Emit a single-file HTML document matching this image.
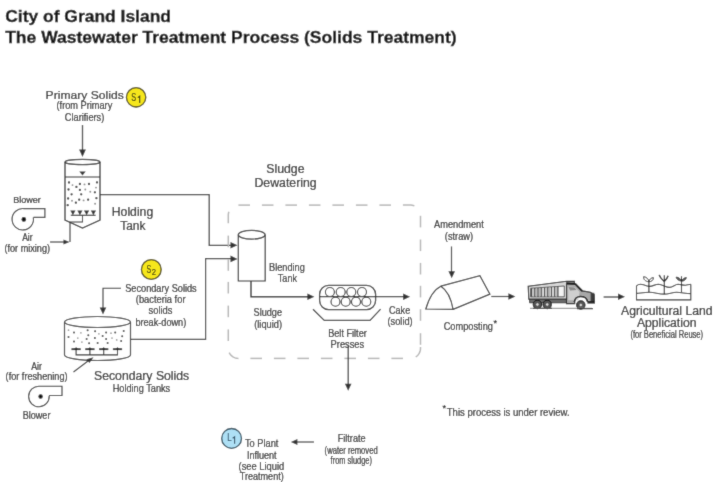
<!DOCTYPE html>
<html><head><meta charset="utf-8"><style>
html,body{margin:0;padding:0;background:#fff;width:718px;height:482px;overflow:hidden}
svg{display:block;font-family:"Liberation Sans",sans-serif;will-change:transform}
</style></head><body>
<div class="wrap"><svg width="718" height="482" viewBox="0 0 718 482">
<defs><filter id="bl" x="0" y="0" width="718" height="482" filterUnits="userSpaceOnUse"><feConvolveMatrix order="3" kernelMatrix="0.02 0.08 0.02 0.08 0.6 0.08 0.02 0.08 0.02" edgeMode="duplicate"/></filter></defs>
<g filter="url(#bl)">
<rect width="718" height="482" fill="#fff"/>
<circle cx="136.1" cy="97.3" r="9.7" fill="#f6e71f" stroke="#4a4408" stroke-width="1.3"/>
<circle cx="151.3" cy="269.5" r="9.9" fill="#f6e71f" stroke="#4a4408" stroke-width="1.3"/>
<circle cx="231.6" cy="438.4" r="9.9" fill="#aee0f5" stroke="#2d4a5a" stroke-width="1.3"/>
<line x1="82.5" y1="125" x2="82.5" y2="151" stroke="#303030" stroke-width="1.3"/>
<polygon points="82.5,157.0 79.1,149.5 85.9,149.5" fill="#303030"/>
<path d="M65,162 L65,220 L82.5,228 L100,220 L100,162" fill="none" stroke="#303030" stroke-width="1.3"/>
<ellipse cx="82.5" cy="162" rx="17.5" ry="2.6" fill="#fff" stroke="#303030" stroke-width="1.2"/>
<line x1="65" y1="177" x2="100" y2="177" stroke="#303030" stroke-width="1.2"/>
<polygon points="79.3,171.6 85.7,171.6 82.5,175.6" fill="#303030"/>
<line x1="70.8" y1="215.3" x2="95.6" y2="215.3" stroke="#303030" stroke-width="1.2"/>
<polygon points="70.3,210.6 75.5,210.6 72.9,215.2" fill="#303030"/>
<polygon points="77.3,210.6 82.5,210.6 79.9,215.2" fill="#303030"/>
<polygon points="84.0,210.6 89.2,210.6 86.6,215.2" fill="#303030"/>
<polygon points="90.8,210.6 96.0,210.6 93.4,215.2" fill="#303030"/>
<path d="M82.5,215 L82.5,222 L70,222 L70,242" fill="none" stroke="#303030" stroke-width="1.1"/>
<line x1="50" y1="242" x2="64" y2="242" stroke="#303030" stroke-width="1.1"/>
<polygon points="69.5,242.0 63.5,239.4 63.5,244.6" fill="#303030"/>
<circle cx="69.0" cy="182.5" r="1.15" fill="#333"/>
<circle cx="72.5" cy="185.1" r="0.95" fill="#888"/>
<circle cx="79.9" cy="184" r="1.15" fill="#333"/>
<circle cx="84.5" cy="184.4" r="0.95" fill="#888"/>
<circle cx="89" cy="184" r="1.15" fill="#333"/>
<circle cx="97" cy="182.4" r="1.15" fill="#333"/>
<circle cx="76.4" cy="186.9" r="1.15" fill="#333"/>
<circle cx="68.5" cy="189.5" r="1.15" fill="#333"/>
<circle cx="79.9" cy="189.9" r="1.15" fill="#333"/>
<circle cx="85.3" cy="189.5" r="0.95" fill="#888"/>
<circle cx="96" cy="187.6" r="0.95" fill="#888"/>
<circle cx="90.3" cy="191.7" r="0.95" fill="#888"/>
<circle cx="94.9" cy="192.3" r="1.15" fill="#333"/>
<circle cx="71.6" cy="194.3" r="1.15" fill="#333"/>
<circle cx="81.2" cy="194.3" r="1.15" fill="#333"/>
<circle cx="68.1" cy="198.5" r="1.15" fill="#333"/>
<circle cx="79.2" cy="199.7" r="1.15" fill="#333"/>
<circle cx="83.6" cy="200.4" r="0.95" fill="#888"/>
<circle cx="88.1" cy="199.7" r="1.15" fill="#333"/>
<circle cx="96.4" cy="198.2" r="1.15" fill="#333"/>
<circle cx="72" cy="200.8" r="0.95" fill="#888"/>
<circle cx="75.9" cy="202.7" r="1.15" fill="#333"/>
<circle cx="67.7" cy="205.2" r="1.15" fill="#333"/>
<circle cx="95.1" cy="203.7" r="0.95" fill="#888"/>
<path d="M100,194.6 L209.2,194.6 L209.2,245.3 L232,245.3" fill="none" stroke="#303030" stroke-width="1.2"/>
<polygon points="237.5,245.3 230.5,242.0 230.5,248.6" fill="#303030"/>
<path d="M35,208.6 L44.9,208.6 L44.9,217.4 L33.5,217.4" fill="none" stroke="#303030" stroke-width="1.1"/>
<path d="M23.9,208.6 L35,208.6 M33.3,217.4 A10.7,10.7 0 1 1 23.9,208.6" fill="#fff" stroke="#303030" stroke-width="1.1"/>
<circle cx="23.8" cy="219.4" r="2.3" fill="#111"/>
<path d="M64.5,322 L64.5,355 A33,5.5 0 0 0 130.5,355 L130.5,322" fill="#fff" stroke="#303030" stroke-width="1.2"/>
<ellipse cx="97.5" cy="322" rx="33" ry="5.5" fill="#fff" stroke="#303030" stroke-width="1.2"/>
<circle cx="68.5" cy="330.2" r="0.85" fill="#999"/>
<circle cx="74" cy="332.5" r="1.0" fill="#3a3a3a"/>
<circle cx="80.9" cy="332.8" r="0.85" fill="#999"/>
<circle cx="87.6" cy="330.2" r="1.0" fill="#3a3a3a"/>
<circle cx="95.1" cy="331.2" r="1.0" fill="#3a3a3a"/>
<circle cx="98.9" cy="333.8" r="0.85" fill="#999"/>
<circle cx="106.1" cy="332.5" r="1.0" fill="#3a3a3a"/>
<circle cx="111" cy="333.2" r="0.85" fill="#999"/>
<circle cx="115.2" cy="332.5" r="1.0" fill="#3a3a3a"/>
<circle cx="123.7" cy="331" r="1.0" fill="#3a3a3a"/>
<circle cx="68.5" cy="336.9" r="1.0" fill="#3a3a3a"/>
<circle cx="77.8" cy="338.1" r="0.85" fill="#999"/>
<circle cx="88.3" cy="335.3" r="1.0" fill="#3a3a3a"/>
<circle cx="86.6" cy="339.1" r="1.0" fill="#3a3a3a"/>
<circle cx="94.9" cy="338.1" r="1.0" fill="#3a3a3a"/>
<circle cx="102.6" cy="335.9" r="1.0" fill="#3a3a3a"/>
<circle cx="106.1" cy="338.9" r="1.0" fill="#3a3a3a"/>
<circle cx="112" cy="338.1" r="0.85" fill="#999"/>
<circle cx="116.7" cy="339.9" r="0.85" fill="#999"/>
<circle cx="122.2" cy="336.3" r="1.0" fill="#3a3a3a"/>
<circle cx="74" cy="341.6" r="1.0" fill="#3a3a3a"/>
<circle cx="81.9" cy="342.1" r="0.85" fill="#999"/>
<circle cx="89.1" cy="343.3" r="1.0" fill="#3a3a3a"/>
<circle cx="97.6" cy="342.9" r="1.0" fill="#3a3a3a"/>
<circle cx="107.6" cy="342.9" r="1.0" fill="#3a3a3a"/>
<circle cx="121.2" cy="341.1" r="1.0" fill="#3a3a3a"/>
<path d="M76.1,349 L76.1,354.9 L117.5,354.9 L117.5,349 M89.9,349 L89.9,354.9 M103.7,349 L103.7,354.9" fill="none" stroke="#303030" stroke-width="1.1"/>
<line x1="71.5" y1="349.2" x2="80.7" y2="349.2" stroke="#111" stroke-width="1.8"/>
<polygon points="74.1,349 78.1,349 76.1,347.2" fill="#111"/>
<line x1="85.3" y1="349.2" x2="94.5" y2="349.2" stroke="#111" stroke-width="1.8"/>
<polygon points="87.9,349 91.9,349 89.9,347.2" fill="#111"/>
<line x1="99.1" y1="349.2" x2="108.3" y2="349.2" stroke="#111" stroke-width="1.8"/>
<polygon points="101.7,349 105.7,349 103.7,347.2" fill="#111"/>
<line x1="112.9" y1="349.2" x2="122.1" y2="349.2" stroke="#111" stroke-width="1.8"/>
<polygon points="115.5,349 119.5,349 117.5,347.2" fill="#111"/>
<line x1="73.5" y1="372" x2="90" y2="359.5" stroke="#303030" stroke-width="1.1"/>
<polygon points="93.5,357.3 86.5,359.2 89.4,363" fill="#303030"/>
<path d="M121,288.3 L103,288.3 L103,308" fill="none" stroke="#303030" stroke-width="1.1"/>
<polygon points="103.0,314.5 99.7,307.5 106.3,307.5" fill="#303030"/>
<path d="M130.5,339.4 L205.6,339.4 L205.6,258.7 L231,258.7" fill="none" stroke="#303030" stroke-width="1.2"/>
<polygon points="237.5,258.9 230.5,255.6 230.5,262.2" fill="#303030"/>
<path d="M50,386.3 L62,386.3 L62,395.5 L49,395.5" fill="none" stroke="#303030" stroke-width="1.1"/>
<path d="M39.5,386.2 L50,386.2 M49.2,395.8 A10.3,10.3 0 1 1 39.5,386.2" fill="#fff" stroke="#303030" stroke-width="1.1"/>
<circle cx="40.6" cy="396.5" r="2.2" fill="#111"/>
<polyline points="238.40,205.10 239.56,205.10 240.72,205.10 241.88,205.10 243.04,205.10 244.20,205.10 245.36,205.10 246.52,205.10 247.68,205.10 248.84,205.10 250.00,205.10" fill="none" stroke="#b6b6b6" stroke-width="1.5"/>
<polyline points="261.90,205.10 263.06,205.10 264.22,205.10 265.38,205.10 266.54,205.10 267.70,205.10 268.86,205.10 270.02,205.10 271.18,205.10 272.34,205.10 273.50,205.10" fill="none" stroke="#b6b6b6" stroke-width="1.5"/>
<polyline points="285.40,205.10 286.56,205.10 287.72,205.10 288.88,205.10 290.04,205.10 291.20,205.10 292.36,205.10 293.52,205.10 294.68,205.10 295.84,205.10 297.00,205.10" fill="none" stroke="#b6b6b6" stroke-width="1.5"/>
<polyline points="308.90,205.10 310.06,205.10 311.22,205.10 312.38,205.10 313.54,205.10 314.70,205.10 315.86,205.10 317.02,205.10 318.18,205.10 319.34,205.10 320.50,205.10" fill="none" stroke="#b6b6b6" stroke-width="1.5"/>
<polyline points="332.40,205.10 333.56,205.10 334.72,205.10 335.88,205.10 337.04,205.10 338.20,205.10 339.36,205.10 340.52,205.10 341.68,205.10 342.84,205.10 344.00,205.10" fill="none" stroke="#b6b6b6" stroke-width="1.5"/>
<polyline points="355.90,205.10 357.06,205.10 358.22,205.10 359.38,205.10 360.54,205.10 361.70,205.10 362.86,205.10 364.02,205.10 365.18,205.10 366.34,205.10 367.50,205.10" fill="none" stroke="#b6b6b6" stroke-width="1.5"/>
<polyline points="379.40,205.10 380.56,205.10 381.72,205.10 382.88,205.10 384.04,205.10 385.20,205.10 386.36,205.10 387.52,205.10 388.68,205.10 389.84,205.10 391.00,205.10" fill="none" stroke="#b6b6b6" stroke-width="1.5"/>
<polyline points="402.90,205.10 404.06,205.10 405.22,205.10 406.38,205.10 407.54,205.10 408.70,205.10 409.86,205.10 411.02,205.11 412.17,205.24 413.30,205.50 414.39,205.89" fill="none" stroke="#b6b6b6" stroke-width="1.5"/>
<polyline points="420.50,215.80 420.50,216.96 420.50,218.12 420.50,219.28 420.50,220.44 420.50,221.60 420.50,222.76 420.50,223.92 420.50,225.08 420.50,226.24 420.50,227.40" fill="none" stroke="#b6b6b6" stroke-width="1.5"/>
<polyline points="420.50,239.50 420.50,240.66 420.50,241.82 420.50,242.98 420.50,244.14 420.50,245.30 420.50,246.46 420.50,247.62 420.50,248.78 420.50,249.94 420.50,251.10" fill="none" stroke="#b6b6b6" stroke-width="1.5"/>
<polyline points="420.50,262.90 420.50,264.06 420.50,265.22 420.50,266.38 420.50,267.54 420.50,268.70 420.50,269.86 420.50,271.02 420.50,272.18 420.50,273.34 420.50,274.50" fill="none" stroke="#b6b6b6" stroke-width="1.5"/>
<polyline points="420.50,285.80 420.50,286.96 420.50,288.12 420.50,289.28 420.50,290.44 420.50,291.60 420.50,292.76 420.50,293.92 420.50,295.08 420.50,296.24 420.50,297.40" fill="none" stroke="#b6b6b6" stroke-width="1.5"/>
<polyline points="420.50,309.20 420.50,310.36 420.50,311.52 420.50,312.68 420.50,313.84 420.50,315.00 420.50,316.16 420.50,317.32 420.50,318.48 420.50,319.64 420.50,320.80" fill="none" stroke="#b6b6b6" stroke-width="1.5"/>
<polyline points="420.50,333.20 420.50,334.36 420.50,335.52 420.50,336.68 420.50,337.84 420.50,339.00 420.50,340.16 420.50,341.32 420.50,342.48 420.50,343.64 420.50,344.80" fill="none" stroke="#b6b6b6" stroke-width="1.5"/>
<polyline points="420.50,347.00 420.50,348.16 420.46,349.32 420.28,350.47 419.98,351.58 419.55,352.66 418.99,353.68 418.33,354.63 417.55,355.49 416.68,356.26 415.73,356.92" fill="none" stroke="#b6b6b6" stroke-width="1.5"/>
<polyline points="403.00,358.40 401.84,358.40 400.68,358.40 399.52,358.40 398.36,358.40 397.20,358.40 396.04,358.40 394.88,358.40 393.72,358.40 392.56,358.40 391.40,358.40" fill="none" stroke="#b6b6b6" stroke-width="1.5"/>
<polyline points="379.50,358.40 378.34,358.40 377.18,358.40 376.02,358.40 374.86,358.40 373.70,358.40 372.54,358.40 371.38,358.40 370.22,358.40 369.06,358.40 367.90,358.40" fill="none" stroke="#b6b6b6" stroke-width="1.5"/>
<polyline points="356.00,358.40 354.84,358.40 353.68,358.40 352.52,358.40 351.36,358.40 350.20,358.40 349.04,358.40 347.88,358.40 346.72,358.40 345.56,358.40 344.40,358.40" fill="none" stroke="#b6b6b6" stroke-width="1.5"/>
<polyline points="332.50,358.40 331.34,358.40 330.18,358.40 329.02,358.40 327.86,358.40 326.70,358.40 325.54,358.40 324.38,358.40 323.22,358.40 322.06,358.40 320.90,358.40" fill="none" stroke="#b6b6b6" stroke-width="1.5"/>
<polyline points="309.00,358.40 307.84,358.40 306.68,358.40 305.52,358.40 304.36,358.40 303.20,358.40 302.04,358.40 300.88,358.40 299.72,358.40 298.56,358.40 297.40,358.40" fill="none" stroke="#b6b6b6" stroke-width="1.5"/>
<polyline points="285.50,358.40 284.34,358.40 283.18,358.40 282.02,358.40 280.86,358.40 279.70,358.40 278.54,358.40 277.38,358.40 276.22,358.40 275.06,358.40 273.90,358.40" fill="none" stroke="#b6b6b6" stroke-width="1.5"/>
<polyline points="262.00,358.40 260.84,358.40 259.68,358.40 258.52,358.40 257.36,358.40 256.20,358.40 255.04,358.40 253.88,358.40 252.72,358.40 251.56,358.40 250.40,358.40" fill="none" stroke="#b6b6b6" stroke-width="1.5"/>
<polyline points="238.50,358.40 237.34,358.35 236.20,358.18 235.08,357.87 234.00,357.43 232.99,356.87 232.04,356.20 231.18,355.42 230.42,354.55 229.76,353.60 229.21,352.58" fill="none" stroke="#b6b6b6" stroke-width="1.5"/>
<polyline points="228.30,341.00 228.30,339.84 228.30,338.68 228.30,337.52 228.30,336.36 228.30,335.20 228.30,334.04 228.30,332.88 228.30,331.72 228.30,330.56 228.30,329.40" fill="none" stroke="#b6b6b6" stroke-width="1.5"/>
<polyline points="228.30,317.20 228.30,316.04 228.30,314.88 228.30,313.72 228.30,312.56 228.30,311.40 228.30,310.24 228.30,309.08 228.30,307.92 228.30,306.76 228.30,305.60" fill="none" stroke="#b6b6b6" stroke-width="1.5"/>
<polyline points="228.30,293.50 228.30,292.34 228.30,291.18 228.30,290.02 228.30,288.86 228.30,287.70 228.30,286.54 228.30,285.38 228.30,284.22 228.30,283.06 228.30,281.90" fill="none" stroke="#b6b6b6" stroke-width="1.5"/>
<polyline points="228.30,270.80 228.30,269.64 228.30,268.48 228.30,267.32 228.30,266.16 228.30,265.00 228.30,263.84 228.30,262.68 228.30,261.52 228.30,260.36 228.30,259.20" fill="none" stroke="#b6b6b6" stroke-width="1.5"/>
<polyline points="228.30,247.20 228.30,246.04 228.30,244.88 228.30,243.72 228.30,242.56 228.30,241.40 228.30,240.24 228.30,239.08 228.30,237.92 228.30,236.76 228.30,235.60" fill="none" stroke="#b6b6b6" stroke-width="1.5"/>
<polyline points="228.30,223.20 228.30,222.04 228.30,220.88 228.30,219.72 228.30,218.56 228.30,217.40 228.30,216.24 228.30,215.08 228.37,213.92 228.57,212.78 228.91,211.67" fill="none" stroke="#b6b6b6" stroke-width="1.5"/>
<path d="M238.3,234.7 L238.3,281 L265.2,281 L265.2,234.7" fill="#fff" stroke="#303030" stroke-width="1.2"/>
<ellipse cx="251.7" cy="234.7" rx="13.4" ry="4.4" fill="#fff" stroke="#303030" stroke-width="1.2"/>
<path d="M251,281 L251,296.8 L308,296.8" fill="none" stroke="#303030" stroke-width="1.4"/>
<polygon points="314.4,296.8 307.4,293.5 307.4,300.1" fill="#303030"/>
<rect x="319.6" y="285.3" width="56" height="24.3" rx="9" ry="9" fill="#fff" stroke="#303030" stroke-width="1.3"/>
<circle cx="329.9" cy="292" r="4.5" fill="none" stroke="#303030" stroke-width="1.1"/>
<circle cx="340.7" cy="292" r="4.5" fill="none" stroke="#303030" stroke-width="1.1"/>
<circle cx="351.3" cy="292" r="4.5" fill="none" stroke="#303030" stroke-width="1.1"/>
<circle cx="362" cy="292" r="4.5" fill="none" stroke="#303030" stroke-width="1.1"/>
<circle cx="335.5" cy="301.7" r="4.5" fill="none" stroke="#303030" stroke-width="1.1"/>
<circle cx="345.7" cy="301.7" r="4.5" fill="none" stroke="#303030" stroke-width="1.1"/>
<circle cx="356" cy="301.7" r="4.5" fill="none" stroke="#303030" stroke-width="1.1"/>
<circle cx="366.3" cy="301.7" r="4.5" fill="none" stroke="#303030" stroke-width="1.1"/>
<line x1="319.6" y1="296.7" x2="404" y2="296.7" stroke="#303030" stroke-width="1.2"/>
<polygon points="410.1,296.7 403.1,293.4 403.1,300.0" fill="#303030"/>
<path d="M313,309.2 L324.3,320.4 L370,320.4 L380.6,309.2" fill="none" stroke="#303030" stroke-width="1.2"/>
<line x1="348.2" y1="345.5" x2="348.2" y2="384" stroke="#303030" stroke-width="1.2"/>
<polygon points="348.2,390.8 344.9,383.8 351.5,383.8" fill="#303030"/>
<line x1="451.5" y1="246.5" x2="451.5" y2="272" stroke="#303030" stroke-width="1.2"/>
<polygon points="451.7,278.2 448.4,271.2 455.0,271.2" fill="#303030"/>
<path d="M425.8,309 Q431,291 440.9,286.2 Q450,292 453.1,309.4 Z" fill="#fff" stroke="#303030" stroke-width="1.2"/>
<path d="M440.9,286.2 L479.9,275.6 L489.9,294.1 L453.1,309.4" fill="none" stroke="#303030" stroke-width="1.2"/>
<line x1="491.3" y1="296.5" x2="509" y2="296.5" stroke="#303030" stroke-width="1.2"/>
<polygon points="515.4,296.5 508.4,293.2 508.4,299.8" fill="#303030"/>

<path d="M528.2,286.3 L566.6,281.2 L574.5,281.4 L574.5,283 L566.6,283 L566.6,299.2 L528.8,299.2 Z" fill="#d8d8d8" stroke="#1a1a1a" stroke-width="1.1"/>
<path d="M530.6,288.3 L564.3,286.0 L564.3,296.8 L530.6,296.8 Z" fill="#f4f4f4" stroke="#333" stroke-width="0.8"/>
<g stroke="#3a3a3a" stroke-width="1.2">
<line x1="531.6" y1="288.3" x2="531.6" y2="296.8"/><line x1="534.8" y1="288.1" x2="534.8" y2="296.8"/><line x1="538" y1="287.9" x2="538" y2="296.8"/><line x1="541.2" y1="287.7" x2="541.2" y2="296.8"/><line x1="544.6" y1="287.4" x2="544.6" y2="296.8"/><line x1="547.8" y1="287.2" x2="547.8" y2="296.8"/><line x1="551.4" y1="287" x2="551.4" y2="296.8"/><line x1="554.7" y1="286.8" x2="554.7" y2="296.8"/><line x1="557.9" y1="286.5" x2="557.9" y2="296.8"/>
</g>
<g stroke="#aaa" stroke-width="0.9">
<line x1="533.2" y1="288.3" x2="533.2" y2="296.8"/><line x1="536.4" y1="288.1" x2="536.4" y2="296.8"/><line x1="539.6" y1="287.9" x2="539.6" y2="296.8"/><line x1="542.9" y1="287.7" x2="542.9" y2="296.8"/><line x1="546.2" y1="287.4" x2="546.2" y2="296.8"/><line x1="549.6" y1="287.2" x2="549.6" y2="296.8"/><line x1="553" y1="287" x2="553" y2="296.8"/><line x1="556.3" y1="286.8" x2="556.3" y2="296.8"/>
</g>
<path d="M529.5,299.2 L566.6,299.2 L566.6,302.8 L529.5,302.8 Z" fill="#6a6a6a" stroke="#1a1a1a" stroke-width="0.8"/>
<path d="M566.5,283.3 L575.5,283.8 L582.2,290.9 L590.4,292.2 L594.2,294.5 L594.5,301.5 L587.4,301.5 C586.5,297.5 583.5,296.8 580.8,296.8 C577.5,296.8 575.2,298.5 574.7,301.4 L574.7,303.6 L566.5,303.6 Z" fill="#a8a8a8" stroke="#151515" stroke-width="1.1"/>
<path d="M566.5,283.6 L575.5,284.1 L582.2,291" fill="none" stroke="#111" stroke-width="1.9"/>
<path d="M568.2,286.6 L575,287 L579.6,292 L578.2,300.2 L568.2,300.2 Z" fill="#cfcfcf"/>
<path d="M568.5,287 L574.5,287.4 L576.5,290 L570,290.5 Z" fill="#8a8a8a"/>
<path d="M574.2,302.2 C574.8,298 577.5,296.4 580.8,296.4 C584.5,296.4 587,298.6 587.7,302" fill="none" stroke="#111" stroke-width="1.4"/>
<rect x="590.6" y="292.8" width="3.7" height="8.6" fill="#3a3a3a"/>
<rect x="587.4" y="301.3" width="7.6" height="2.3" fill="#222"/>
<g stroke="#151515" stroke-width="1.1">
<circle cx="537.4" cy="304.5" r="4.2" fill="#555"/><circle cx="547.2" cy="304.5" r="4.2" fill="#555"/><circle cx="580.8" cy="305.0" r="4.2" fill="#555"/>
</g>
<g fill="#d8d8d8" stroke="#333" stroke-width="0.6"><circle cx="537.4" cy="304.5" r="1.7"/><circle cx="547.2" cy="304.5" r="1.7"/><circle cx="580.8" cy="305.0" r="1.7"/></g>
<path d="M530,308.3 L592,308.3" stroke="#9a9a9a" stroke-width="1.2"/>
<path d="M533,308.4 L552,308.4 M577,308.6 L593,308.6" stroke="#333" stroke-width="1.3"/>

<line x1="603.6" y1="297" x2="619" y2="297" stroke="#303030" stroke-width="1.2"/>
<polygon points="625.0,296.8 618.0,293.5 618.0,300.1" fill="#303030"/>
<path d="M636.5,285.8 L636.5,299.9 L690.8,299.9 L690.8,284.3" fill="none" stroke="#333" stroke-width="1.1"/>
<path d="M636.5,285.8 C638.5,284 641,284 643.5,284.8 C646.5,286 648,286.6 650,286.4 C653,286 655.5,284.3 658.5,284.3 C662.5,284.5 666,287.4 669.5,287.4 C673,287.4 675,284.3 678,284.3 C681,284.4 683,285.4 685.5,285.3 C687.5,285 689,284.4 690.8,284.3" fill="none" stroke="#333" stroke-width="1.1"/>
<path d="M636.5,293.4 C641,293 645,292.2 649.8,292.3 C655,292.5 659,294.1 664.1,294.1 C669,294.1 672,292.3 676.6,292.3 C681,292.3 686,293.6 690.8,293.6" fill="none" stroke="#333" stroke-width="1.1"/>
<path d="M648.9,292.3 V280.2 M664.3,294.1 V275.3 M681.5,292.3 V276.3" fill="none" stroke="#222" stroke-width="1.1"/>
<path d="M648.9,281.8 C645.5,281.5 643.3,279.5 643.6,276.7 C646.5,276.9 648.6,279 648.9,281.8 Z M648.9,281.8 C649.3,279.3 651.2,277.7 653.4,277.6 C653.6,280.2 651.5,281.7 648.9,281.8 Z" fill="#fff" stroke="#222" stroke-width="0.9"/>
<path d="M664.3,281.5 C662.3,279.8 660,277.8 659.2,274.9 M664.3,281.5 C666.2,279.8 667.5,277.8 668.1,275.8" fill="none" stroke="#222" stroke-width="1.4"/>
<path d="M681.5,281.2 C678.5,280.6 676.3,279.3 676.1,277.1 C678.8,277.2 680.8,279 681.5,281.2 Z M681.5,281.2 C682.5,279 684.3,277.6 686.4,277.6 C686,280 683.8,281.2 681.5,281.2 Z" fill="#666" stroke="#222" stroke-width="0.8"/>
<line x1="314" y1="442" x2="296" y2="442" stroke="#303030" stroke-width="1.1"/>
<polygon points="290.9,442.0 297.4,439.0 297.4,445.0" fill="#303030"/>
<text x="5.2" y="21.8" font-size="17" font-weight="bold" stroke="#101010" stroke-width="0.35" fill="#101010" textLength="165.8" lengthAdjust="spacingAndGlyphs">City of Grand Island</text>
<text x="5.2" y="42.5" font-size="17" font-weight="bold" stroke="#101010" stroke-width="0.35" fill="#101010" textLength="451.4" lengthAdjust="spacingAndGlyphs">The Wastewater Treatment Process (Solids Treatment)</text>
<text x="45.6" y="98.5" font-size="11.2" stroke="#262626" stroke-width="0.22" fill="#262626" textLength="78.2" lengthAdjust="spacingAndGlyphs">Primary Solids</text>
<text x="56.5" y="109.2" font-size="10.3" stroke="#262626" stroke-width="0.22" fill="#262626" textLength="55.8" lengthAdjust="spacingAndGlyphs">(from Primary</text>
<text x="64.8" y="120.5" font-size="10.3" stroke="#262626" stroke-width="0.22" fill="#262626" textLength="39.5" lengthAdjust="spacingAndGlyphs">Clarifiers)</text>
<text x="13.2" y="202.8" font-size="9.9" stroke="#262626" stroke-width="0.22" fill="#262626" textLength="27.6" lengthAdjust="spacingAndGlyphs">Blower</text>
<text x="22.2" y="240.6" font-size="10.3" stroke="#262626" stroke-width="0.22" fill="#262626" textLength="10.4" lengthAdjust="spacingAndGlyphs">Air</text>
<text x="4.5" y="252.0" font-size="10.3" stroke="#262626" stroke-width="0.22" fill="#262626" textLength="45.5" lengthAdjust="spacingAndGlyphs">(for mixing)</text>
<text x="111.8" y="216.2" font-size="12.3" stroke="#262626" stroke-width="0.22" fill="#262626" textLength="41.4" lengthAdjust="spacingAndGlyphs">Holding</text>
<text x="120.2" y="229.8" font-size="12.3" stroke="#262626" stroke-width="0.22" fill="#262626" textLength="25.2" lengthAdjust="spacingAndGlyphs">Tank</text>
<text x="266.2" y="172.9" font-size="12.1" stroke="#262626" stroke-width="0.22" fill="#262626" textLength="38.4" lengthAdjust="spacingAndGlyphs">Sludge</text>
<text x="254.5" y="187.1" font-size="12.1" stroke="#262626" stroke-width="0.22" fill="#262626" textLength="62.1" lengthAdjust="spacingAndGlyphs">Dewatering</text>
<text x="269.0" y="270.6" font-size="11.0" stroke="#262626" stroke-width="0.22" fill="#262626" textLength="35.8" lengthAdjust="spacingAndGlyphs">Blending</text>
<text x="277.8" y="281.8" font-size="11.0" stroke="#262626" stroke-width="0.22" fill="#262626" textLength="19.2" lengthAdjust="spacingAndGlyphs">Tank</text>
<text x="253.6" y="316.4" font-size="11.0" stroke="#262626" stroke-width="0.22" fill="#262626" textLength="28.4" lengthAdjust="spacingAndGlyphs">Sludge</text>
<text x="254.2" y="328.1" font-size="11.0" stroke="#262626" stroke-width="0.22" fill="#262626" textLength="27.8" lengthAdjust="spacingAndGlyphs">(liquid)</text>
<text x="328.2" y="336.6" font-size="11.0" stroke="#262626" stroke-width="0.22" fill="#262626" textLength="38.6" lengthAdjust="spacingAndGlyphs">Belt Filter</text>
<text x="330.6" y="347.5" font-size="11.0" stroke="#262626" stroke-width="0.22" fill="#262626" textLength="33.6" lengthAdjust="spacingAndGlyphs">Presses</text>
<text x="389.0" y="313.7" font-size="11.0" stroke="#262626" stroke-width="0.22" fill="#262626" textLength="21.2" lengthAdjust="spacingAndGlyphs">Cake</text>
<text x="387.5" y="324.8" font-size="11.0" stroke="#262626" stroke-width="0.22" fill="#262626" textLength="25.2" lengthAdjust="spacingAndGlyphs">(solid)</text>
<text x="434.1" y="228.4" font-size="11.0" stroke="#262626" stroke-width="0.22" fill="#262626" textLength="49.7" lengthAdjust="spacingAndGlyphs">Amendment</text>
<text x="444.8" y="239.9" font-size="11.0" stroke="#262626" stroke-width="0.22" fill="#262626" textLength="28.3" lengthAdjust="spacingAndGlyphs">(straw)</text>
<text x="443.7" y="330.0" font-size="11.0" stroke="#262626" stroke-width="0.22" fill="#262626" textLength="49.2" lengthAdjust="spacingAndGlyphs">Composting</text>
<text x="493.6" y="325.6" font-size="8.5" stroke="#262626" stroke-width="0.22" fill="#262626" textLength="3.6" lengthAdjust="spacingAndGlyphs">*</text>
<text x="621.0" y="315.0" font-size="12.1" stroke="#262626" stroke-width="0.22" fill="#262626" textLength="91.6" lengthAdjust="spacingAndGlyphs">Agricultural Land</text>
<text x="636.9" y="326.8" font-size="12.1" stroke="#262626" stroke-width="0.22" fill="#262626" textLength="59.6" lengthAdjust="spacingAndGlyphs">Application</text>
<text x="630.4" y="337.9" font-size="10.0" stroke="#262626" stroke-width="0.22" fill="#262626" textLength="72.7" lengthAdjust="spacingAndGlyphs">(for Beneficial Reuse)</text>
<text x="125.2" y="291.9" font-size="11.0" stroke="#262626" stroke-width="0.22" fill="#262626" textLength="71.5" lengthAdjust="spacingAndGlyphs">Secondary Solids</text>
<text x="135.8" y="303.2" font-size="11.0" stroke="#262626" stroke-width="0.22" fill="#262626" textLength="49.7" lengthAdjust="spacingAndGlyphs">(bacteria for</text>
<text x="148.6" y="314.3" font-size="11.0" stroke="#262626" stroke-width="0.22" fill="#262626" textLength="23.9" lengthAdjust="spacingAndGlyphs">solids</text>
<text x="135.4" y="326.1" font-size="11.0" stroke="#262626" stroke-width="0.22" fill="#262626" textLength="50.8" lengthAdjust="spacingAndGlyphs">break-down)</text>
<text x="94.0" y="380.4" font-size="12.5" stroke="#262626" stroke-width="0.22" fill="#262626" textLength="95.2" lengthAdjust="spacingAndGlyphs">Secondary Solids</text>
<text x="112.7" y="391.9" font-size="11.0" stroke="#262626" stroke-width="0.22" fill="#262626" textLength="57.5" lengthAdjust="spacingAndGlyphs">Holding Tanks</text>
<text x="31.2" y="369.5" font-size="10.3" stroke="#262626" stroke-width="0.22" fill="#262626" textLength="10.7" lengthAdjust="spacingAndGlyphs">Air</text>
<text x="5.6" y="380.0" font-size="10.3" stroke="#262626" stroke-width="0.22" fill="#262626" textLength="62.0" lengthAdjust="spacingAndGlyphs">(for freshening)</text>
<text x="22.8" y="419.0" font-size="10.3" stroke="#262626" stroke-width="0.22" fill="#262626" textLength="27.6" lengthAdjust="spacingAndGlyphs">Blower</text>
<text x="442.4" y="410.9" font-size="8.5" stroke="#262626" stroke-width="0.22" fill="#262626" textLength="3.6" lengthAdjust="spacingAndGlyphs">*</text>
<text x="446.8" y="415.6" font-size="11.0" stroke="#262626" stroke-width="0.22" fill="#262626" textLength="122.8" lengthAdjust="spacingAndGlyphs">This process is under review.</text>
<text x="244.9" y="447.4" font-size="11.0" stroke="#262626" stroke-width="0.22" fill="#262626" textLength="33.5" lengthAdjust="spacingAndGlyphs">To Plant</text>
<text x="246.9" y="458.8" font-size="11.0" stroke="#262626" stroke-width="0.22" fill="#262626" textLength="29.7" lengthAdjust="spacingAndGlyphs">Influent</text>
<text x="238.6" y="469.5" font-size="11.0" stroke="#262626" stroke-width="0.22" fill="#262626" textLength="45.6" lengthAdjust="spacingAndGlyphs">(see Liquid</text>
<text x="239.8" y="480.0" font-size="11.0" stroke="#262626" stroke-width="0.22" fill="#262626" textLength="43.9" lengthAdjust="spacingAndGlyphs">Treatment)</text>
<text x="337.7" y="442.4" font-size="11.0" stroke="#262626" stroke-width="0.22" fill="#262626" textLength="27.9" lengthAdjust="spacingAndGlyphs">Filtrate</text>
<text x="324.6" y="454.4" font-size="10.4" stroke="#262626" stroke-width="0.22" fill="#262626" textLength="53.1" lengthAdjust="spacingAndGlyphs">(water removed</text>
<text x="330.6" y="464.3" font-size="10.4" stroke="#262626" stroke-width="0.22" fill="#262626" textLength="41.3" lengthAdjust="spacingAndGlyphs">from sludge)</text>
<text transform="translate(131.17,100.89) scale(0.648,1)" font-size="11.27" fill="#2a2a10" stroke="#2a2a10" stroke-width="0.12">S</text>
<path d="M139.70,102.90 L139.70,96.20 L137.80,97.60" fill="none" stroke="#2a2a10" stroke-width="1.1"/>
<text transform="translate(146.39,272.80) scale(0.677,1)" font-size="10.28" fill="#2a2a10" stroke="#2a2a10" stroke-width="0.12">S</text>
<text transform="translate(151.72,274.50) scale(0.855,1)" font-size="9.00" fill="#2a2a10" stroke="#2a2a10" stroke-width="0.12">2</text>
<text transform="translate(227.27,441.10) scale(0.705,1)" font-size="11.16" fill="#2a4a60" stroke="#2a4a60" stroke-width="0.12">L</text>
<path d="M234.60,443.80 L234.60,436.90 L232.70,438.30" fill="none" stroke="#2a4a60" stroke-width="1.1"/>
</g>
</svg></div>
</body></html>
